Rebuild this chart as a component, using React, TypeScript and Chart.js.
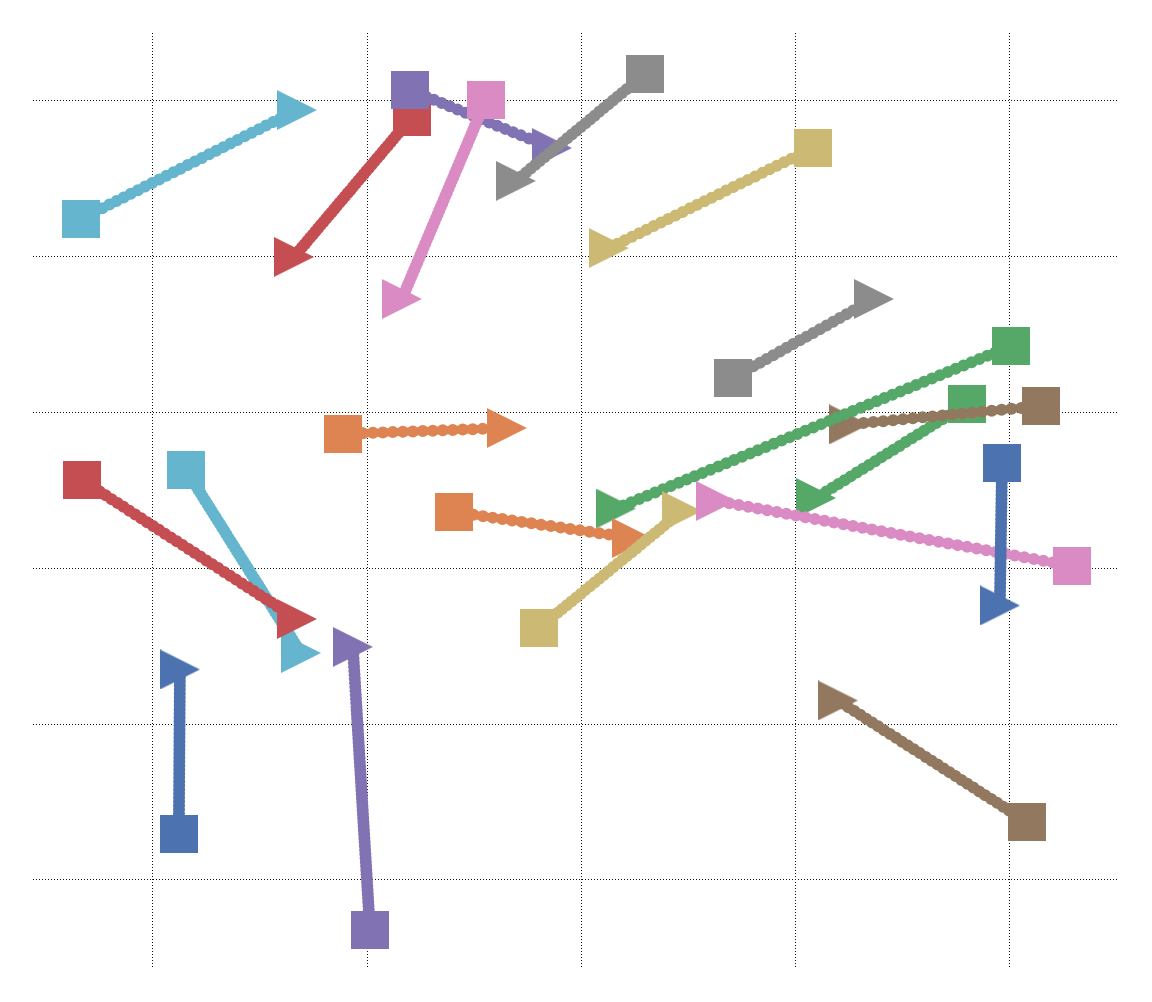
import React, { useEffect, useRef } from 'react';
import { Chart, registerables } from 'chart.js';

Chart.register(...registerables);

// Arrows, listed in drawing order (later ones are drawn on top)
const ARROW_COLORS = [
  '#64B5CD', '#C44E52', '#8172B3', '#DA8BC3', '#8C8C8C',
  '#CCB974', '#8C8C8C', '#55A868', '#937860', '#55A868',
  '#DD8452', '#DD8452', '#CCB974', '#DA8BC3', '#4C72B0',
  '#64B5CD', '#C44E52', '#8172B3', '#4C72B0', '#937860',
];
const START_X = [
  -0.336, 1.209, 1.200, 1.554, 2.296,
  3.081, 2.709, 3.799, 4.145, 4.005,
  0.887, 1.405, 1.802, 4.289, 3.963,
  0.154, -0.331, 1.013, 0.121, 4.079,
];
const START_Y = [
  4.243, 4.897, 5.071, 5.006, 5.173,
  4.698, 3.225, 3.055, 3.042, 3.427,
  2.863, 2.362, 1.617, 2.015, 2.677,
  2.632, 2.567, -0.321, 0.298, 0.372,
];
const END_X = [
  0.672, 0.658, 1.862, 1.162, 1.694,
  2.128, 3.365, 3.095, 3.249, 2.161,
  1.652, 2.236, 2.469, 2.628, 3.953,
  0.691, 0.672, 0.933, 0.126, 3.197,
];
const END_Y = [
  4.942, 3.999, 4.698, 3.729, 4.487,
  4.056, 3.729, 2.452, 2.924, 2.384,
  2.901, 2.195, 2.368, 2.433, 1.762,
  1.457, 1.675, 1.496, 1.351, 1.152,
];

const X_TICKS = [0, 1, 2, 3, 4];
const Y_TICKS = [0, 1, 2, 3, 4, 5];
const X_RANGE = [-0.5597, 4.5043];
const Y_RANGE = [-0.5716, 5.4364];

function makeMarker(color: string, kind: 'square' | 'tri'): HTMLCanvasElement {
  const c = document.createElement('canvas');
  const s = kind === 'square' ? 38 : 40;
  c.width = s;
  c.height = s;
  const g = c.getContext('2d')!;
  g.fillStyle = color;
  if (kind === 'square') {
    g.fillRect(0, 0, s, s);
  } else {
    g.beginPath();
    g.moveTo(0, 0);
    g.lineTo(s, s / 2);
    g.lineTo(0, s);
    g.closePath();
    g.fill();
  }
  return c;
}

export default function App() {
  const ref = useRef<HTMLCanvasElement | null>(null);

  useEffect(() => {
    if (!ref.current) return;
    const datasets: any[] = [];
    const n = ARROW_COLORS.length;
    for (let i = 0; i < n; i++) {
      const color = ARROW_COLORS[i];
      const pts = [
        { x: START_X[i], y: START_Y[i] },
        { x: END_X[i], y: END_Y[i] },
      ];
      // beaded stroke
      datasets.push({
        data: pts,
        showLine: true,
        borderColor: color,
        backgroundColor: color,
        borderWidth: 12,
        borderCapStyle: 'round',
        borderDash: [0, 9],
        segment: {
          borderDash: (ctx: any) => {
            const dx = Math.abs(ctx.p1.x - ctx.p0.x);
            const dy = Math.abs(ctx.p1.y - ctx.p0.y);
            const len = Math.hypot(dx, dy) || 1;
            const cos = dx / len;
            return [0, Math.max(4, 10 * cos * cos)];
          },
        },
        pointRadius: 0,
        clip: false,
        order: 1000 - 2 * i,
      });
      // core line + start/end markers
      datasets.push({
        data: pts,
        showLine: true,
        borderColor: color,
        backgroundColor: color,
        borderWidth: 8,
        borderCapStyle: 'butt',
        pointStyle: [makeMarker(color, 'square'), makeMarker(color, 'tri')],
        pointRadius: 20,
        pointBorderWidth: 0,
        pointHoverRadius: 20,
        clip: false,
        order: 1000 - 2 * i - 1,
      });
    }

    const chart = new Chart(ref.current, {
      type: 'scatter',
      data: { datasets },
      options: {
        responsive: false,
        animation: false,
        devicePixelRatio: 1,
        layout: { padding: { left: 33, right: 34, top: 33, bottom: 33 } },
        plugins: { legend: { display: false }, tooltip: { enabled: false } },
        scales: {
          x: {
            type: 'linear',
            min: X_RANGE[0],
            max: X_RANGE[1],
            afterBuildTicks: (s: any) => {
              s.ticks = X_TICKS.map((v) => ({ value: v }));
            },
            ticks: { display: false },
            grid: { color: '#111', lineWidth: 1, drawTicks: false },
            border: { display: false, dash: [1, 2] },
          },
          y: {
            type: 'linear',
            min: Y_RANGE[0],
            max: Y_RANGE[1],
            afterBuildTicks: (s: any) => {
              s.ticks = Y_TICKS.map((v) => ({ value: v }));
            },
            ticks: { display: false },
            grid: { color: '#111', lineWidth: 1, drawTicks: false },
            border: { display: false, dash: [1, 2] },
          },
        },
      } as any,
    });
    return () => chart.destroy();
  }, []);

  return (
    <div style={{ position: 'fixed', left: 0, top: 0, width: 1152, height: 1002, background: '#fff' }}>
      <canvas ref={ref} width={1152} height={1002} style={{ width: 1152, height: 1002, display: 'block' }} />
    </div>
  );
}
